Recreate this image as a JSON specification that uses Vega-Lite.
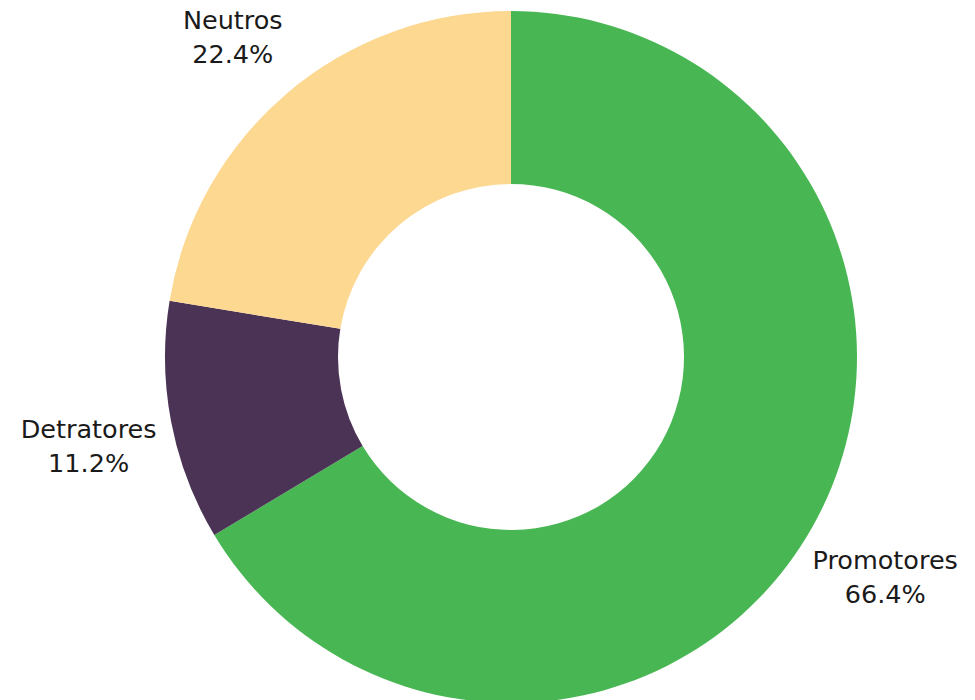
{
  "$schema": "https://vega.github.io/schema/vega-lite/v6.json",
  "width": 900,
  "height": 700,
  "autosize": "none",
  "padding": {"left": 61, "top": 7, "right": 0, "bottom": 0},
  "background": "white",
  "data": {
    "values": [
      {"category": "Promotores", "value": 66.4, "order": 1},
      {"category": "Detratores", "value": 11.2, "order": 2},
      {"category": "Neutros", "value": 22.4, "order": 3}
    ]
  },
  "encoding": {
    "theta": {"field": "value", "type": "quantitative", "stack": true},
    "order": {"field": "order", "type": "quantitative"},
    "color": {
      "field": "category",
      "type": "nominal",
      "scale": {"domain": ["Promotores", "Detratores", "Neutros"], "range": ["#48b753", "#4a3354", "#fdd891"]},
      "legend": null
    }
  },
  "layer": [
    {"mark": {"type": "arc", "outerRadius": 346, "innerRadius": 173}},
    {
      "transform": [{"calculate": "[datum.category, format(datum.value, '.1f') + '%']", "as": "label"}],
      "mark": {"type": "text", "radius": 430, "dy": -8, "fontSize": 25.5, "font": "DejaVu Sans", "align": "center", "baseline": "middle", "lineHeight": 34},
      "encoding": {"text": {"field": "label"}, "color": {"value": "#1a1a1a"}}
    }
  ]
}
